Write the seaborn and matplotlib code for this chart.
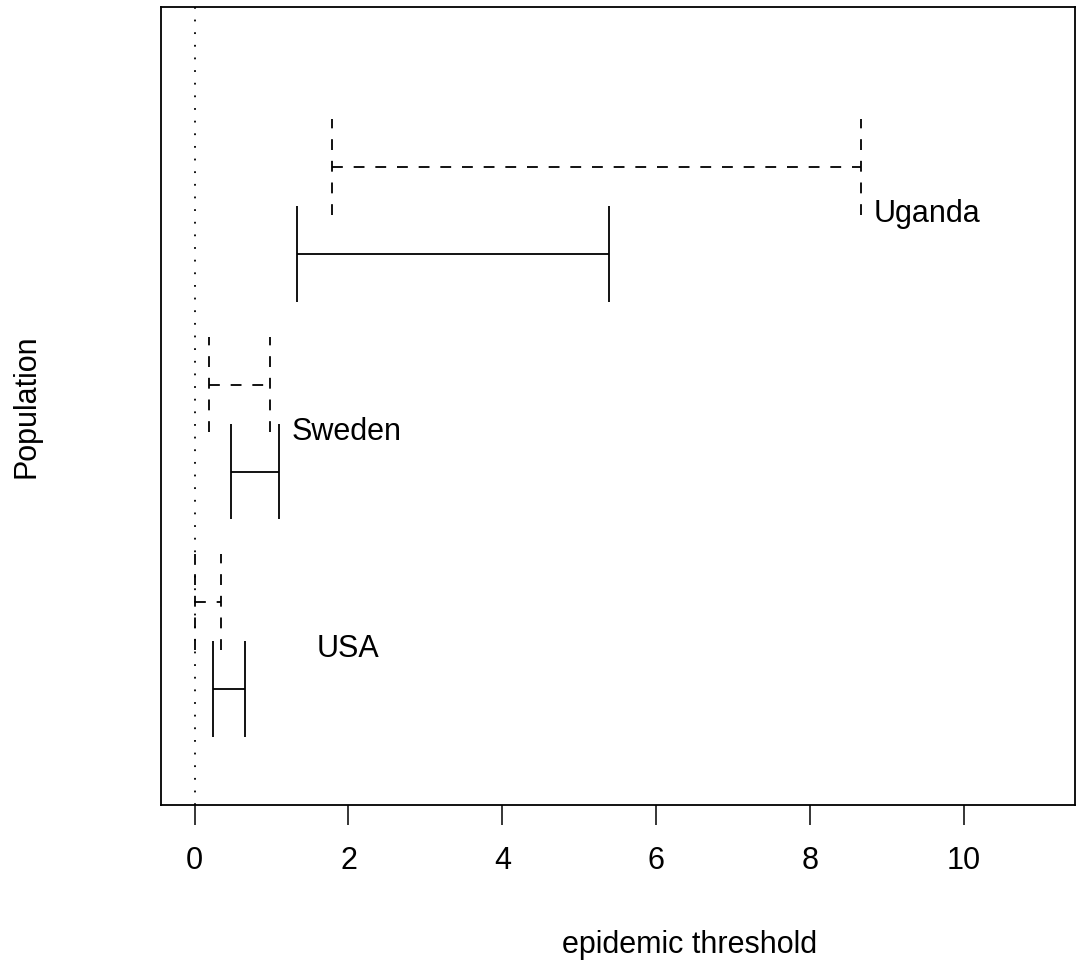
import numpy as np
import pandas as pd
import matplotlib
matplotlib.use("Agg")
import matplotlib.pyplot as plt
import seaborn as sns

# epidemic threshold intervals per population
countries = ["USA", "Sweden", "Uganda"]
solid_low = [0.24, 0.47, 1.33]
solid_high = [0.66, 1.10, 5.38]
dashed_low = [0.01, 0.19, 1.79]
dashed_high = [0.35, 0.98, 8.66]
label_x = [1.58, 1.26, 8.82]

df = pd.DataFrame({
    "country": countries,
    "pos": [1, 2, 3],
    "solid_low": solid_low,
    "solid_high": solid_high,
    "dashed_low": dashed_low,
    "dashed_high": dashed_high,
    "label_x": label_x,
})

sns.set_theme(style="white")
plt.rcParams["font.family"] = ["Liberation Sans", "DejaVu Sans"]

fig = plt.figure(figsize=(10.78, 9.72), dpi=100)
ax = fig.add_axes([160.7 / 1078, 1 - 805 / 972, (1075 - 160.7) / 1078, (805 - 7) / 972])

lw = 1.3
cap = 0.22
offset = 0.4
dash = (0, (6, 6))

y_solid = df["pos"]
y_dash = df["pos"] + offset

# solid intervals
ax.hlines(y_solid, df["solid_low"], df["solid_high"], color="black", lw=lw)
ax.vlines(df["solid_low"], y_solid - cap, y_solid + cap, color="black", lw=lw)
ax.vlines(df["solid_high"], y_solid - cap, y_solid + cap, color="black", lw=lw)

# dashed intervals
ax.hlines(y_dash, df["dashed_low"], df["dashed_high"], color="black", lw=lw, linestyles=[dash])
ax.vlines(df["dashed_low"], y_dash - cap, y_dash + cap, color="black", lw=lw, linestyles=[dash])
ax.vlines(df["dashed_high"], y_dash - cap, y_dash + cap, color="black", lw=lw, linestyles=[dash])

# reference line at zero
ax.axvline(0, color="black", lw=lw, linestyle=(0, (1, 6)))

for _, r in df.iterrows():
    ax.text(r["label_x"], r["pos"] + 0.147, r["country"], fontsize=22,
            ha="left", va="baseline", color="black")

ax.set_xlim(-0.44, 11.44)
ax.set_ylim(0.467, 4.136)
ax.set_xticks([0, 2, 4, 6, 8, 10])
ax.set_yticks([])
ax.tick_params(axis="x", direction="out", length=14.5, width=1.1, pad=15,
               labelsize=22, bottom=True, colors="black")
for s in ax.spines.values():
    s.set_color("black")
    s.set_linewidth(1.3)

fig.text(562 / 1078, 1 - 953 / 972, "epidemic threshold", fontsize=22,
         ha="left", va="baseline", color="black")
fig.text(27 / 1078, 1 - 406 / 972, "Population", fontsize=22, rotation=90,
         ha="center", va="center", color="black")

fig.savefig("out.png", dpi=100, facecolor="white")
